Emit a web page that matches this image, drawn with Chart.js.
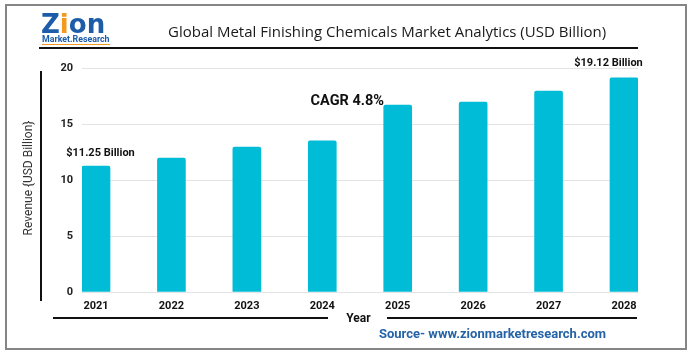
<!DOCTYPE html>
<html><head><meta charset="utf-8">
<script src="https://cdn.jsdelivr.net/npm/chart.js@4"></script>
<style>
html,body{margin:0;padding:0;background:#fff;}
#wrap{position:relative;width:691px;height:357px;overflow:hidden;font-family:Roboto,sans-serif;background:#fff;}
canvas{position:absolute;left:0;top:0;}
.abs{position:absolute;white-space:nowrap;}
</style></head><body>
<div id="wrap">
<canvas id="c" width="691" height="357"></canvas>
<div class="abs" style="left:5px;top:4px;width:682px;height:346px;border:2px solid #858585;box-sizing:border-box"></div>
<div class="abs" style="left:41px;top:8.5px;font-family:'DejaVu Sans';font-weight:bold;font-size:26px;line-height:30px;letter-spacing:0px;color:#1d5ca8">Z<span style="color:#f39a1e">i</span>on</div>
<div class="abs" style="left:42px;top:34px;font-weight:bold;font-size:8.8px;line-height:10px;color:#1d5ca8;border-bottom:1.5px solid #f39a1e">Market.Research</div>
<div class="abs" style="left:168px;top:21px;font-family:'Open Sans';font-size:15px;line-height:20px;color:#1a1a1a">Global Metal Finishing Chemicals Market Analytics (USD Billion)</div>
<div class="abs" style="left:39px;top:46.5px;width:599px;height:2px;background:#111"></div>
<div class="abs" style="left:39.7px;top:70.5px;width:2px;height:230px;background:#111"></div>
<div class="abs" style="left:28px;top:178px;transform:translate(-50%,-50%) rotate(-90deg);font-size:12px;line-height:14px;color:#333">Revenue {USD Billion}</div>
<div class="abs" style="left:53px;top:317px;width:275px;height:2px;background:#111"></div>
<div class="abs" style="left:387px;top:317px;width:250px;height:2px;background:#111"></div>
<div class="abs" style="left:358.5px;top:318px;transform:translate(-50%,-50%);font-weight:bold;font-size:12px;line-height:14px;color:#111">Year</div>
<div class="abs" style="left:492.5px;top:332.5px;transform:translate(-50%,-50%);font-weight:bold;font-size:13px;line-height:15px;color:#2563a8">Source- www.zionmarketresearch.com</div>
</div>
<script>
const years = [2021, 2022, 2023, 2024, 2025, 2026, 2027, 2028];
const revenue = [11.25, 11.95, 12.95, 13.5, 16.7, 16.95, 17.95, 19.12];
const yTickValues = [0, 5, 10, 15, 20];
const firstLabel = "$11.25 Billion";
const lastLabel = "$19.12 Billion";
const cagrLabel = "CAGR 4.8%";

const annotations = {
  id: 'annotations',
  afterDraw(chart) {
    const {ctx, scales: {x, y}} = chart;
    ctx.save();
    ctx.fillStyle = '#111';
    ctx.textAlign = 'center';
    ctx.textBaseline = 'middle';
    ctx.font = 'bold 11px Roboto';
    ctx.fillText(firstLabel, x.getPixelForValue(years[0]) + 4.5, y.getPixelForValue(revenue[0]) - 12.5);
    ctx.fillText(lastLabel, x.getPixelForValue(years[7]) - 15.5, y.getPixelForValue(revenue[7]) - 14.5);
    ctx.font = 'bold 14.5px Roboto';
    ctx.fillText(cagrLabel, x.getPixelForValue(years[3]) + 25, y.getPixelForValue(17));
    ctx.restore();
  }
};

new Chart(document.getElementById('c'), {
  type: 'bar',
  data: {
    datasets: [{
      data: years.map((yr, i) => ({x: yr, y: revenue[i]})),
      backgroundColor: '#00bcd7',
      barThickness: 28,
      borderRadius: {topLeft: 2, topRight: 2, bottomLeft: 0, bottomRight: 0},
      borderSkipped: 'bottom'
    }]
  },
  options: {
    responsive: false,
    devicePixelRatio: 1,
    animation: false,
    layout: {padding: {left: 0, right: 53, top: 68, bottom: 45}},
    plugins: {legend: {display: false}, tooltip: {enabled: false}, title: {display: false}},
    scales: {
      x: {
        type: 'linear',
        offset: false,
        min: years[0] - 0.1856,
        max: years[years.length - 1] + 0.1856,
        grid: {display: false},
        border: {display: false},
        afterFit(s) { s.height = 20; },
        ticks: {
          stepSize: 1,
          includeBounds: false,
          autoSkip: false,
          maxRotation: 0,
          padding: 0,
          color: '#111',
          font: {family: 'Roboto', weight: 'bold', size: 11},
          callback: v => years.includes(v) ? String(v) : ''
        }
      },
      y: {
        min: yTickValues[0],
        max: yTickValues[yTickValues.length - 1],
        afterFit(s) { s.width = 82; },
        afterBuildTicks(s) { s.ticks = yTickValues.map(v => ({value: v})); },
        grid: {color: '#e4e4e4', lineWidth: 1, drawTicks: false},
        border: {display: false},
        ticks: {
          padding: 9,
          color: '#222',
          font: {family: 'Roboto', weight: 'bold', size: 11},
          callback: v => String(v)
        }
      }
    }
  },
  plugins: [annotations]
});
</script>
</body></html>
